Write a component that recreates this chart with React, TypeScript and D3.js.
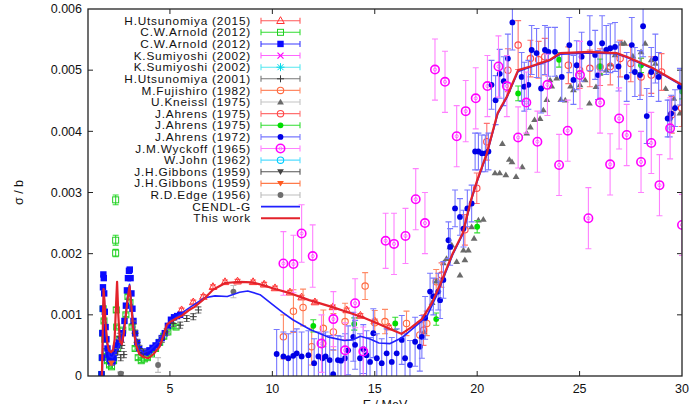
import React from "react";
import * as d3 from "d3";

// [E / MeV, sigma in 1e-3 b, error in 1e-3 b]
type Pt = [number, number, number?];

const X_TICKS = [5, 10, 15, 20, 25, 30];
const Y_TICKS = [0, 0.001, 0.002, 0.003, 0.004, 0.005, 0.006];
const MB = 0.001;

const utsunomiya2015: Pt[] = [
  [5.57, 1.08, 0.03], [6.14, 1.21, 0.03], [6.63, 1.3, 0.03], [7.1, 1.46, 0.03], [7.69, 1.54, 0.03],
  [8.3, 1.55, 0.03], [9.06, 1.54, 0.03], [9.6, 1.5, 0.03], [10.13, 1.44, 0.03], [10.86, 1.37, 0.03],
  [11.43, 1.29, 0.03], [12.08, 1.21, 0.03], [12.96, 1.13, 0.03], [13.63, 1.08, 0.03], [14.3, 0.99, 0.03],
  [15.0, 0.9, 0.03], [15.7, 0.8, 0.03],
];

const arnoldGreen: Pt[] = [
  [1.66, 0.02, 0.02], [1.7, 0.3, 0.03], [1.72, 0.7, 0.03], [1.74, 1.1, 0.03], [1.78, 0.9, 0.03],
  [1.82, 0.6, 0.03], [1.88, 0.4, 0.03], [1.95, 0.25, 0.03], [2.05, 0.18, 0.03], [2.15, 0.15, 0.03],
  [2.25, 0.25, 0.03], [2.35, 2.88, 0.08], [2.35, 2.22, 0.08], [2.35, 2.01, 0.06], [2.38, 1.08, 0.04],
  [2.4, 0.8, 0.03], [2.45, 0.45, 0.03], [2.55, 0.6, 0.03], [2.7, 0.75, 0.03], [2.85, 1.0, 0.03],
  [2.95, 1.3, 0.03], [3.05, 1.2, 0.03], [3.15, 0.8, 0.03], [3.3, 0.45, 0.03], [3.45, 0.3, 0.03],
  [3.6, 0.25, 0.03], [3.75, 0.28, 0.03], [3.9, 0.3, 0.03], [4.1, 0.36, 0.03], [4.3, 0.45, 0.03],
  [4.5, 0.55, 0.03], [4.7, 0.65, 0.03], [4.9, 0.72, 0.03], [5.1, 0.82, 0.03], [5.3, 0.8, 0.03],
];

const arnoldBlue: Pt[] = [
  [1.66, 0.03], [1.68, 0.3], [1.7, 0.7], [1.72, 1.1], [1.73, 1.45], [1.75, 1.66], [1.77, 1.6],
  [1.79, 1.35], [1.82, 1.05], [1.86, 0.8], [1.9, 0.6], [1.95, 0.45], [2.0, 0.35], [2.05, 0.28],
  [2.1, 0.24], [2.15, 0.22], [2.2, 0.24], [2.25, 0.3], [2.3, 0.38], [2.36, 0.45], [2.42, 0.5],
  [2.5, 0.55], [2.6, 0.6], [2.7, 0.7], [2.78, 0.9], [2.85, 1.15], [2.9, 1.4], [2.95, 1.6],
  [3.0, 1.72], [3.04, 1.74], [3.08, 1.6], [3.12, 1.35], [3.17, 1.1], [3.22, 0.9], [3.3, 0.7],
  [3.4, 0.55], [3.5, 0.45], [3.6, 0.4], [3.7, 0.38], [3.8, 0.38], [3.9, 0.4], [4.0, 0.42],
  [4.15, 0.46], [4.3, 0.5], [4.45, 0.55], [4.6, 0.62], [4.75, 0.7], [4.9, 0.82], [5.05, 0.92],
  [5.2, 0.96], [5.35, 0.98], [5.5, 1.0],
];

const sumiyoshiA: Pt[] = [];
const sumiyoshiB: Pt[] = [];

const utsunomiya2001: Pt[] = [
  [2.45, 0.4, 0.05], [2.55, 0.65, 0.05], [2.6, 0.3, 0.05], [2.65, 0.5, 0.05], [2.75, 0.35, 0.05],
  [3.2, 0.85, 0.05], [3.3, 0.7, 0.05], [3.4, 0.55, 0.05], [3.5, 0.45, 0.05], [3.7, 0.38, 0.05],
  [4.6, 0.6, 0.05], [4.84, 0.72, 0.05], [5.16, 0.86, 0.05], [5.5, 0.83, 0.05], [5.82, 0.94, 0.05],
  [6.14, 0.97, 0.05], [6.39, 1.08, 0.05],
];

const fujishiro: Pt[] = [
  [10.54, 0.64, 0.36], [11.03, 1.06, 0.35], [11.5, 1.12, 0.3], [11.92, 0.48, 0.3], [12.49, 0.78, 0.3],
  [12.98, 0.72, 0.3], [13.55, 0.89, 0.3], [14.53, 1.47, 0.22], [15.0, 0.87, 0.2], [15.5, 0.89, 0.2],
  [16.55, 0.86, 0.2], [17.2, 0.67, 0.2], [17.54, 0.86, 0.2], [18.0, 1.54, 0.2],
];

const kneissl: Pt[] = [
  [17.4, 0.72], [17.8, 1.2], [18.0, 1.55], [18.35, 1.85], [18.5, 1.92], [18.67, 2.11], [18.76, 2.14],
  [19.0, 1.87], [19.16, 1.65], [19.33, 2.06], [19.4, 1.9], [19.57, 2.06], [19.73, 2.44], [19.85, 2.25],
  [20.06, 2.55], [20.3, 2.56], [20.87, 3.32], [21.1, 3.32], [21.23, 3.8], [21.4, 3.29], [21.57, 3.54],
  [21.7, 3.5], [21.9, 3.26], [22.2, 3.42], [22.42, 3.97], [22.6, 4.07], [22.8, 4.19], [23.07, 4.21],
  [23.23, 4.35], [23.4, 4.52], [23.56, 4.84], [23.64, 4.74], [23.88, 4.87], [24.08, 4.52], [24.3, 4.51],
  [24.56, 4.74], [24.7, 4.68], [25.02, 4.76], [25.27, 4.84], [25.48, 4.46], [25.8, 4.73], [26.0, 4.95],
  [26.3, 5.0], [26.5, 5.1], [26.73, 5.25], [27.05, 5.44], [27.2, 5.44], [27.6, 5.23], [28.0, 5.3],
  [28.2, 5.44], [28.5, 5.17], [28.7, 5.11], [28.85, 4.97], [29.2, 4.7], [29.6, 4.54], [29.66, 4.4],
  [29.9, 4.3],
];

const ahrensRed: Pt[] = [
  [17.38, 0.75, 0.25], [18.26, 1.65, 0.2], [19.4, 2.39, 0.25], [19.98, 3.07, 0.25], [20.47, 3.83, 0.3],
  [21.5, 5.0, 0.35], [22.0, 5.41, 0.4], [22.6, 5.19, 0.3], [23.0, 5.17, 0.3], [23.3, 5.22, 0.3],
  [24.45, 5.08, 0.3], [25.0, 5.0, 0.3], [25.5, 5.03, 0.3], [26.0, 5.05, 0.3], [26.5, 5.06, 0.3],
  [26.98, 5.19, 0.3], [27.5, 5.11, 0.3], [28.0, 4.89, 0.3], [28.5, 4.92, 0.3], [29.0, 4.97, 0.3],
  [29.5, 4.27, 0.3], [29.98, 4.38, 0.3],
];

const ahrensGreen: Pt[] = [
  [12.0, 0.82, 0.1], [14.0, 0.85, 0.1], [16.0, 0.86, 0.1], [18.0, 0.93, 0.1], [20.0, 2.44, 0.1],
  [22.0, 4.62, 0.12], [24.0, 5.17, 0.12], [26.0, 5.06, 0.12], [28.0, 5.08, 0.12], [30.0, 4.65, 0.12],
];

const ahrens1972: Pt[] = [
  [10.21, 0.36, 0.4], [10.54, 0.32, 0.4], [10.78, 0.29, 0.4], [11.02, 0.33, 0.4], [11.19, 0.37, 0.4],
  [11.43, 0.32, 0.4], [11.76, 0.34, 0.4], [12.04, 0.21, 0.4], [12.25, 0.32, 0.4], [12.45, 0.29, 0.4],
  [12.6, 0.32, 0.4], [12.8, 0.26, 0.4], [12.97, 0.03, 0.4], [13.2, 0.26, 0.4], [13.35, 0.25, 0.4],
  [13.55, 0.29, 0.4], [13.7, 0.42, 0.4], [13.95, 0.64, 0.4], [14.04, 0.51, 0.4], [14.28, 0.29, 0.4],
  [14.44, 0.44, 0.4], [14.6, 0.34, 0.4], [14.77, 0.23, 0.4], [14.93, 0.7, 0.4], [15.1, 0.29, 0.4],
  [15.34, 0.21, 0.4], [15.58, 0.37, 0.4], [15.83, 0.23, 0.4], [16.07, 0.37, 0.4], [16.32, 0.59, 0.4],
  [16.48, 0.29, 0.4], [16.72, 0.18, 0.4], [16.97, 0.56, 0.4], [17.2, 0.48, 0.4], [17.3, 0.64, 0.35],
  [17.46, 0.95, 0.35], [17.7, 1.38, 0.3], [17.86, 1.3, 0.3], [18.1, 1.38, 0.3], [18.19, 1.24, 0.3],
  [18.35, 1.57, 0.3], [18.6, 2.22, 0.3], [18.68, 2.11, 0.3], [18.92, 2.74, 0.3], [19.16, 2.6, 0.3],
  [19.33, 2.41, 0.3], [19.52, 2.74, 0.3], [19.73, 2.82, 0.3], [19.9, 3.67, 0.3], [20.06, 3.67, 0.3],
  [20.23, 3.64, 0.3], [20.4, 3.64, 0.3], [20.55, 3.67, 0.3], [20.7, 4.76, 0.4], [20.9, 4.51, 0.4],
  [21.1, 4.94, 0.4], [21.3, 4.82, 0.4], [21.5, 5.19, 0.4], [21.72, 5.78, 0.45], [22.17, 4.89, 0.4],
  [22.3, 4.73, 0.4], [22.5, 4.76, 0.4], [22.66, 5.33, 0.4], [22.9, 5.28, 0.4], [23.12, 4.7, 0.4],
  [23.31, 5.33, 0.4], [23.48, 5.3, 0.4], [23.8, 5.3, 0.4], [24.13, 4.89, 0.4], [24.5, 5.41, 0.45],
  [24.7, 4.84, 0.4], [24.86, 5.08, 0.4], [25.1, 5.22, 0.4], [25.5, 5.44, 0.45], [25.76, 5.25, 0.4],
  [25.9, 4.92, 0.4], [26.1, 5.44, 0.45], [26.3, 5.33, 0.4], [26.5, 5.36, 0.4], [26.73, 5.38, 0.4],
  [26.9, 5.06, 0.4], [27.3, 4.89, 0.4], [27.55, 5.41, 0.45], [27.7, 4.97, 0.4], [27.95, 4.92, 0.4],
  [28.1, 5.72, 0.5], [28.28, 4.25, 0.45], [28.5, 4.97, 0.4], [28.7, 5.19, 0.4], [28.86, 4.89, 0.4],
  [29.3, 4.21, 0.3], [29.4, 4.21, 0.3], [29.47, 4.29, 0.3], [29.66, 4.38, 0.3], [29.9, 4.73, 0.3],
];

const wyckoff: Pt[] = [
  [10.54, 1.84, 0.52], [11.03, 1.83, 0.47], [11.43, 2.33, 0.47], [11.97, 1.96, 0.51], [12.4, 0.53, 0.47],
  [12.98, 0.93, 0.45], [13.55, 0.42, 0.45], [14.04, 1.19, 0.4], [14.44, 0.4, 0.4], [15.53, 2.21, 0.45],
  [15.94, 2.16, 0.5], [16.5, 2.29, 0.45], [17.0, 2.89, 0.5], [17.45, 2.5, 0.5], [17.94, 5.01, 0.5],
  [18.43, 4.81, 0.5], [19.0, 3.92, 0.5], [19.44, 4.33, 0.5], [19.93, 4.54, 0.5], [20.5, 4.74, 0.5],
  [21.04, 5.06, 0.5], [21.45, 4.74, 0.5], [22.0, 3.9, 0.5], [22.4, 4.47, 0.5], [22.94, 3.83, 0.5],
  [23.43, 4.76, 0.5], [24.0, 3.45, 0.5], [24.42, 4.01, 0.5], [25.02, 4.92, 0.55], [25.43, 2.58, 0.5],
  [26.0, 4.47, 0.5], [26.49, 3.46, 0.5], [26.93, 4.21, 0.5], [27.3, 3.94, 0.5], [28.0, 3.5, 0.5],
  [28.5, 3.81, 0.5], [28.9, 3.12, 0.5], [29.42, 4.05, 0.5], [30.0, 2.47, 0.5],
];

const john: Pt[] = [];
const gibbonsA: Pt[] = [[2.6, 0.03, 0.02]];
const gibbonsB: Pt[] = [[2.14, 0.21, 0.03]];
const edge: Pt[] = [[2.6, 0.04, 0.03], [4.42, 0.18, 0.12], [8.1, 1.38, 0.1]];

const cendlG: Pt[] = [
  [1.7, 0], [1.74, 1.1], [1.78, 1.35], [1.84, 0.95], [1.92, 0.55], [2.05, 0.32], [2.2, 0.3],
  [2.4, 0.42], [2.6, 0.55], [2.8, 0.9], [2.95, 1.35], [3.03, 1.5], [3.12, 1.2], [3.25, 0.75],
  [3.45, 0.45], [3.7, 0.38], [4.0, 0.42], [4.4, 0.55], [4.75, 0.72], [5.0, 0.89], [5.4, 0.98],
  [5.8, 1.08], [6.2, 1.17], [6.7, 1.28], [7.2, 1.31], [7.8, 1.3], [8.4, 1.37], [8.8, 1.39],
  [9.4, 1.33], [10.0, 1.17], [10.5, 1.04], [11.0, 0.92], [11.84, 0.76], [12.7, 0.64], [13.5, 0.58],
  [13.9, 0.59], [14.3, 0.65], [14.8, 0.6], [15.2, 0.54], [15.75, 0.53], [16.3, 0.62], [16.87, 0.78],
  [17.54, 0.97], [18.0, 1.3], [18.8, 1.98], [19.3, 2.32], [19.7, 2.86], [20.0, 3.18], [20.47, 3.62],
  [21.0, 4.28], [21.45, 4.55], [22.0, 4.98], [22.6, 5.05], [23.56, 5.16], [24.05, 5.26], [25.5, 5.28],
  [26.8, 5.27], [27.3, 5.21], [28.6, 5.02], [30.0, 4.75],
];

const thisWork: Pt[] = [
  [1.68, 0], [1.72, 0.7], [1.76, 1.42], [1.8, 1.25], [1.86, 0.85], [1.94, 0.55], [2.02, 0.42],
  [2.12, 0.39], [2.22, 0.42], [2.3, 0.6], [2.36, 1.1], [2.42, 1.54], [2.48, 1.0], [2.55, 0.58],
  [2.65, 0.52], [2.75, 0.7], [2.85, 1.0], [2.95, 1.3], [3.03, 1.47], [3.1, 1.2], [3.2, 0.8],
  [3.35, 0.5], [3.5, 0.36], [3.7, 0.31], [3.95, 0.29], [4.2, 0.36], [4.5, 0.48], [4.7, 0.68],
  [4.85, 0.84], [5.0, 0.88], [5.3, 0.94], [5.6, 0.99], [5.9, 1.07], [6.2, 1.13], [6.6, 1.24],
  [7.1, 1.41], [7.7, 1.52], [8.4, 1.54], [9.0, 1.53], [9.5, 1.49], [10.05, 1.43], [10.9, 1.35],
  [11.8, 1.24], [12.9, 1.13], [13.8, 1.03], [14.5, 0.95], [15.2, 0.85], [15.8, 0.76], [16.3, 0.69],
  [16.8, 0.8], [17.3, 0.93], [17.8, 1.2], [18.2, 1.5], [18.8, 2.0], [19.3, 2.34], [19.7, 2.88],
  [20.0, 3.2], [20.47, 3.64], [21.0, 4.3], [21.45, 4.57], [22.0, 5.0], [22.6, 5.06], [23.56, 5.17],
  [24.05, 5.28], [25.5, 5.3], [26.8, 5.28], [27.3, 5.22], [28.6, 5.03], [30.0, 4.76],
];

type MarkerKind =
  | "triUp" | "sqOpen" | "sqFill" | "cross" | "star" | "plus" | "circOpen"
  | "triFill" | "circFill" | "ring" | "triDownFill";

interface PointSeries {
  label: string;
  data: Pt[];
  color: string;
  bar: string;
  marker: MarkerKind;
}

const POINT_SERIES: PointSeries[] = [
  { label: "H.Utsunomiya (2015)", data: utsunomiya2015, color: "#ff3030", bar: "#ff5a5a", marker: "triUp" },
  { label: "C.W.Arnold (2012)", data: arnoldGreen, color: "#22cc22", bar: "#33dd33", marker: "sqOpen" },
  { label: "C.W.Arnold (2012)", data: arnoldBlue, color: "#0a0aff", bar: "#3a3aff", marker: "sqFill" },
  { label: "K.Sumiyoshi (2002)", data: sumiyoshiA, color: "#ff00ff", bar: "#ff66ff", marker: "cross" },
  { label: "K.Sumiyoshi (2002)", data: sumiyoshiB, color: "#00d8e8", bar: "#55e8f0", marker: "star" },
  { label: "H.Utsunomiya (2001)", data: utsunomiya2001, color: "#3a3a3a", bar: "#777777", marker: "plus" },
  { label: "M.Fujishiro (1982)", data: fujishiro, color: "#ff6a40", bar: "#ff8a66", marker: "circOpen" },
  { label: "U.Kneissl (1975)", data: kneissl, color: "#6a6a6a", bar: "#c4c4c4", marker: "triFill" },
  { label: "J.Ahrens (1975)", data: ahrensRed, color: "#ff4848", bar: "#ff7070", marker: "circOpen" },
  { label: "J.Ahrens (1975)", data: ahrensGreen, color: "#00dd00", bar: "#33dd33", marker: "circFill" },
  { label: "J.Ahrens (1972)", data: ahrens1972, color: "#0000e6", bar: "#7878ff", marker: "circFill" },
  { label: "J.M.Wyckoff (1965)", data: wyckoff, color: "#ff00ff", bar: "#ff80ff", marker: "ring" },
  { label: "W.John (1962)", data: john, color: "#00ccff", bar: "#55ddff", marker: "circOpen" },
  { label: "J.H.Gibbons (1959)", data: gibbonsA, color: "#444444", bar: "#555555", marker: "triDownFill" },
  { label: "J.H.Gibbons (1959)", data: gibbonsB, color: "#ff5a20", bar: "#ff7a4a", marker: "triDownFill" },
  { label: "R.D.Edge (1956)", data: edge, color: "#6e6e6e", bar: "#bdbdbd", marker: "circFill" },
];

const LINE_SERIES = [
  { label: "CENDL-G", data: cendlG, color: "#2020ff", width: 1.6 },
  { label: "This work", data: thisWork, color: "#e3222b", width: 2.2 },
];

const W = 692;
const H = 404;
const M = { left: 88, right: 682, top: 9, bottom: 376 };
const FONT = "'Liberation Sans', Arial, Helvetica, sans-serif";

const x = d3.scaleLinear().domain([1, 30]).range([M.left, M.right]);
const y = d3.scaleLinear().domain([0, 0.006]).range([M.bottom, M.top]);

function Marker({ kind, cx, cy, color }: { kind: MarkerKind; cx: number; cy: number; color: string }) {
  switch (kind) {
    case "triUp":
      return <path d={`M${cx},${cy - 4}L${cx - 3.8},${cy + 2.8}L${cx + 3.8},${cy + 2.8}Z`} fill="none" stroke={color} strokeWidth={1} />;
    case "sqOpen":
      return <rect x={cx - 3} y={cy - 3} width={6} height={6} fill="none" stroke={color} strokeWidth={1} />;
    case "sqFill":
      return <rect x={cx - 3.2} y={cy - 3.2} width={6.4} height={6.4} fill={color} />;
    case "cross":
      return <path d={`M${cx - 3},${cy - 3}L${cx + 3},${cy + 3}M${cx - 3},${cy + 3}L${cx + 3},${cy - 3}`} stroke={color} strokeWidth={1.2} />;
    case "star":
      return <path d={`M${cx - 3},${cy - 3}L${cx + 3},${cy + 3}M${cx - 3},${cy + 3}L${cx + 3},${cy - 3}M${cx - 4},${cy}L${cx + 4},${cy}M${cx},${cy - 4}L${cx},${cy + 4}`} stroke={color} strokeWidth={1} />;
    case "plus":
      return <path d={`M${cx - 3.5},${cy}L${cx + 3.5},${cy}M${cx},${cy - 3.5}L${cx},${cy + 3.5}`} stroke={color} strokeWidth={1} />;
    case "circOpen":
      return <circle cx={cx} cy={cy} r={3.2} fill="none" stroke={color} strokeWidth={1.1} />;
    case "triFill":
      return <path d={`M${cx},${cy - 3.3}L${cx - 3.4},${cy + 2.4}L${cx + 3.4},${cy + 2.4}Z`} fill={color} />;
    case "triDownFill":
      return <path d={`M${cx},${cy + 3.2}L${cx - 3.4},${cy - 2.4}L${cx + 3.4},${cy - 2.4}Z`} fill={color} />;
    case "circFill":
      return <circle cx={cx} cy={cy} r={2.9} fill={color} />;
    case "ring":
      return (
        <g>
          <circle cx={cx} cy={cy} r={4.2} fill="none" stroke={color} strokeWidth={1.6} />
          <circle cx={cx} cy={cy} r={1.6} fill="none" stroke={color} strokeWidth={0.8} opacity={0.6} />
        </g>
      );
  }
  return null;
}

function ErrorBar({ cx, v, e, color }: { cx: number; v: number; e: number; color: string }) {
  const y0 = y((v - e) * MB);
  const y1 = y((v + e) * MB);
  const cap = 3;
  return (
    <path
      d={`M${cx},${y0}L${cx},${y1}M${cx - cap},${y0}L${cx + cap},${y0}M${cx - cap},${y1}L${cx + cap},${y1}`}
      stroke={color}
      strokeWidth={1.1}
      fill="none"
    />
  );
}

export default function App() {
  const line = d3
    .line<Pt>()
    .x((d) => x(d[0]))
    .y((d) => y(d[1] * MB));

  const legendX = 251;
  const legendY0 = 20.7;
  const legendDy = 11.62;
  const sampleX0 = 261;
  const sampleX1 = 300;
  const sampleMid = (sampleX0 + sampleX1) / 2;

  return (
    <svg
      width={W}
      height={H}
      viewBox={`0 0 ${W} ${H}`}
      style={{ position: "absolute", left: 0, top: 0, background: "#fff", display: "block" }}
      fontFamily={FONT}
    >
      <defs>
        <clipPath id="plot-area">
          <rect x={M.left} y={M.top} width={M.right - M.left} height={M.bottom - M.top} />
        </clipPath>
      </defs>
      <rect x={0} y={0} width={W} height={H} fill="#fff" />

      {/* ticks (mirrored on all four sides, pointing inward) */}
      <g stroke="#222" strokeWidth={1}>
        {X_TICKS.filter((t) => t < 30).map((t) => (
          <g key={`xt${t}`}>
            <line x1={x(t)} x2={x(t)} y1={M.bottom} y2={M.bottom - 5} />
            <line x1={x(t)} x2={x(t)} y1={M.top} y2={M.top + 5} />
          </g>
        ))}
        {Y_TICKS.filter((t) => t > 0 && t < 0.006).map((t) => (
          <g key={`yt${t}`}>
            <line x1={M.left} x2={M.left + 5} y1={y(t)} y2={y(t)} />
            <line x1={M.right} x2={M.right - 5} y1={y(t)} y2={y(t)} />
          </g>
        ))}
      </g>

      {/* tick labels */}
      <g fontSize={12.5} fill="#111">
        {X_TICKS.map((t) => (
          <text key={`xl${t}`} x={x(t)} y={393} textAnchor="middle">
            {t}
          </text>
        ))}
        {Y_TICKS.map((t) => (
          <text key={`yl${t}`} x={82} y={y(t) + 4.3} textAnchor="end">
            {d3.format("")(t)}
          </text>
        ))}
      </g>

      {/* axis titles */}
      <text x={385} y={409} textAnchor="middle" fontSize={12.5} fill="#111">
        E / MeV
      </text>
      <text transform={`translate(23,${(M.top + M.bottom) / 2}) rotate(-90)`} textAnchor="middle" fontSize={12.5} fill="#111">
        σ / b
      </text>

      {/* measured data */}
      <g clipPath="url(#plot-area)">
        {POINT_SERIES.map((s, si) => (
          <g key={`s${si}`}>
            {s.data.map((d, i) => (
              <g key={i}>
                {d[2] ? <ErrorBar cx={x(d[0])} v={d[1]} e={d[2]} color={s.bar} /> : null}
                <Marker kind={s.marker} cx={x(d[0])} cy={y(d[1] * MB)} color={s.color} />
              </g>
            ))}
          </g>
        ))}
        {LINE_SERIES.map((s) => (
          <path key={s.label} d={line(s.data) ?? ""} fill="none" stroke={s.color} strokeWidth={s.width} strokeLinejoin="round" />
        ))}
      </g>

      {/* frame */}
      <rect x={M.left} y={M.top} width={M.right - M.left} height={M.bottom - M.top} fill="none" stroke="#222" strokeWidth={1.3} />

      {/* legend */}
      <g fontSize={11.8} fill="#111">
        {POINT_SERIES.map((s, i) => {
          const ly = legendY0 + i * legendDy;
          return (
            <g key={`lg${i}`}>
              <text x={legendX} y={ly + 4.1} textAnchor="end" letterSpacing={0.8}>
                {s.label}
              </text>
              <path
                d={`M${sampleX0},${ly}L${sampleX1},${ly}M${sampleX0},${ly - 3}L${sampleX0},${ly + 3}M${sampleX1},${ly - 3}L${sampleX1},${ly + 3}`}
                stroke={s.bar}
                strokeWidth={1.1}
                fill="none"
              />
              <Marker kind={s.marker} cx={sampleMid} cy={ly} color={s.color} />
            </g>
          );
        })}
        {LINE_SERIES.map((s, j) => {
          const ly = legendY0 + (POINT_SERIES.length + j) * legendDy;
          return (
            <g key={`ll${j}`}>
              <text x={legendX} y={ly + 4.1} textAnchor="end" letterSpacing={0.8}>
                {s.label}
              </text>
              <line x1={sampleX0} x2={sampleX1} y1={ly} y2={ly} stroke={s.color} strokeWidth={s.width} />
            </g>
          );
        })}
      </g>
    </svg>
  );
}
